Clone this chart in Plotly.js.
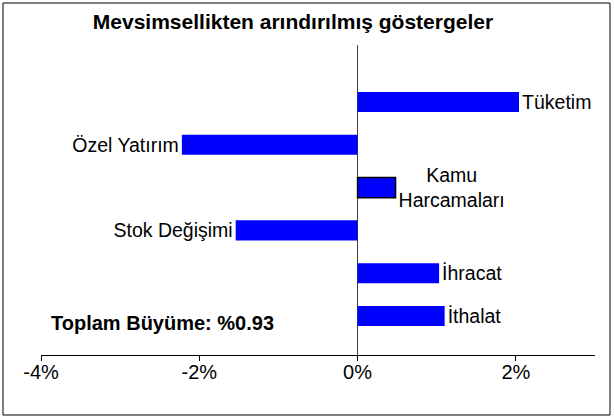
<!DOCTYPE html>
<html>
<head>
<meta charset="utf-8">
<script src="https://cdn.plot.ly/plotly-3.0.1.min.js"></script>
<style>
html,body{margin:0;padding:0;background:#fff;}
#chart{width:614px;height:418px;}
</style>
</head>
<body>
<div id="chart"></div>
<script>
const categories = ['Tüketim', 'Özel Yatırım', 'Kamu Harcamaları', 'Stok Değişimi', 'İhracat', 'İthalat'];
const barLabels = ['Tüketim', 'Özel Yatırım', 'Kamu<br>Harcamaları', 'Stok Değişimi', 'İhracat', 'İthalat'];
const values = [2.04, -2.22, 0.48, -1.54, 1.03, 1.10];
const xTickVals = [-4, -2, 0, 2];
const xTickText = ['-4%', '-2%', '0%', '2%'];
const titleText = 'Mevsimsellikten arındırılmış göstergeler';
const totalText = 'Toplam Büyüme: %0.93';

const FONT = 'Liberation Sans, Arial, sans-serif';
const BLUE = '#0000FF';

// plot area geometry (pixels)
const PL = 41, PR = 595, PT = 45, PB = 355;
const PW = PR - PL, PH = PB - PT;

const trace = {
  type: 'bar',
  orientation: 'h',
  y: categories,
  x: values,
  text: barLabels,
  textposition: 'outside',
  constraintext: 'none',
  cliponaxis: false,
  textfont: {family: FONT, size: 19.5, color: '#000'},
  marker: {
    color: BLUE,
    line: {
      color: categories.map(c => c === 'Kamu Harcamaları' ? '#000' : BLUE),
      width: categories.map(c => c === 'Kamu Harcamaları' ? 1.5 : 0)
    }
  },
  hoverinfo: 'none'
};

const layout = {
  width: 614,
  height: 418,
  margin: {l: PL, r: 614 - PR, t: PT, b: 418 - PB},
  paper_bgcolor: '#fff',
  plot_bgcolor: '#fff',
  showlegend: false,
  bargap: 0.53,
  font: {family: FONT, color: '#000'},
  title: {
    text: titleText,
    font: {family: FONT, size: 21, weight: 'bold', color: '#000'},
    x: 293 / 614,
    xanchor: 'center',
    xref: 'container',
    y: 1 - 22 / 418,
    yanchor: 'middle',
    yref: 'container'
  },
  xaxis: {
    range: [-4, 3],
    tickvals: xTickVals,
    ticktext: xTickText,
    ticks: 'outside',
    ticklen: 5,
    tickcolor: '#000',
    ticklabelstandoff: -6,
    showline: true,
    linecolor: '#000',
    linewidth: 1,
    showgrid: false,
    zeroline: true,
    zerolinecolor: '#404040',
    zerolinewidth: 1,
    tickfont: {family: FONT, size: 20, color: '#000'},
    fixedrange: true
  },
  yaxis: {
    type: 'category',
    categoryorder: 'array',
    categoryarray: categories,
    range: [5.91, -1.33],
    showticklabels: false,
    showline: false,
    showgrid: false,
    zeroline: false,
    ticks: '',
    fixedrange: true
  },
  annotations: [{
    text: totalText,
    xref: 'paper', yref: 'paper',
    x: (162 - PL) / PW, y: (PB - 323) / PH,
    xanchor: 'center', yanchor: 'middle',
    showarrow: false,
    font: {family: FONT, size: 20, weight: 'bold', color: '#000'}
  }],
  shapes: [{
    type: 'rect',
    xref: 'paper', yref: 'paper',
    x0: (3 - PL) / PW, x1: (610 - PL) / PW,
    y0: (PB - 415) / PH, y1: (PB - 3) / PH,
    line: {color: '#000', width: 1},
    fillcolor: 'rgba(0,0,0,0)',
    layer: 'below'
  }]
};

Plotly.newPlot('chart', [trace], layout, {staticPlot: true, displayModeBar: false});
</script>
</body>
</html>
